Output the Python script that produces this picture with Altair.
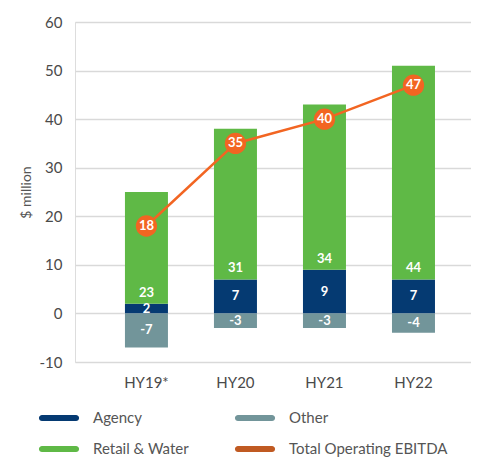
import altair as alt
import pandas as pd

periods = ["HY19*", "HY20", "HY21", "HY22"]
agency = [2, 7, 9, 7]
retail = [23, 31, 34, 44]
other = [-7, -3, -3, -4]
total = [18, 35, 40, 47]

series_names = ["Agency", "Other", "Retail & Water", "Total Operating EBITDA"]
series_colors = ["#053a72", "#72959a", "#5fb946", "#c05a22"]
line_color = "#f26522"

rows = []
for i, p in enumerate(periods):
    rows.append({"period": p, "series": "Agency", "value": agency[i], "order": 1})
    rows.append({"period": p, "series": "Retail & Water", "value": retail[i], "order": 2})
    rows.append({"period": p, "series": "Other", "value": other[i], "order": 3})
bars_df = pd.DataFrame(rows)
total_df = pd.DataFrame({"period": periods, "total": total})

FONT = "Lato"

x_scale = alt.Scale(domain=periods, paddingInner=0.517, paddingOuter=0.483, align=0.581)
x_enc = alt.X("period:N", scale=x_scale, sort=periods,
              axis=alt.Axis(title=None, labelAngle=0, domain=False, ticks=False,
                            labelPadding=13, labelFontSize=15, labelColor="#4a4a4a",
                            labelFont=FONT))
y_scale = alt.Scale(domain=[-10, 60], nice=False, zero=False)
y_axis = alt.Axis(title="$ million", values=[-10, 0, 10, 20, 30, 40, 50, 60],
                  labelExpr="toString(datum.value)",
                  domain=False, ticks=False, labelPadding=13, labelFontSize=15,
                  labelColor="#4a4a4a", labelFont=FONT, titleFont=FONT,
                  titleFontSize=14, titleFontWeight="normal", titleColor="#555555",
                  titlePadding=6, gridColor="#d9d9d9", gridWidth=1.6)

bars = alt.Chart(bars_df).mark_bar(size=43).encode(
    x=x_enc,
    y=alt.Y("value:Q", scale=y_scale, axis=y_axis, stack="zero"),
    color=alt.Color("series:N", scale=alt.Scale(domain=series_names, range=series_colors),
                    legend=alt.Legend(
                        title=None, orient="none", legendX=-33, legendY=379,
                        columns=2, direction="horizontal",
                        symbolType="M-1,-0.18L1,-0.18A0.18,0.18,0,0,1,1,0.18L-1,0.18A0.18,0.18,0,0,1,-1,-0.18Z",
                        symbolSize=1156, symbolStrokeWidth=0, symbolOpacity=1,
                        labelFontSize=15, labelColor="#555555", labelFont=FONT,
                        labelOffset=17, rowPadding=6, columnPadding=45,
                        gridAlign="each")),
    order=alt.Order("order:Q"),
)

stacked = alt.Chart(bars_df).transform_stack(
    stack="value", groupby=["period"], as_=["v0", "v1"],
    sort=[alt.SortField("order", order="ascending")]
).transform_calculate(mid="(datum.v0 + datum.v1) / 2", lbl="toString(datum.value)")

mid_labels = stacked.transform_filter("datum.series != 'Retail & Water'").mark_text(
    color="white", fontSize=13, fontWeight="bold", font=FONT
).encode(x=alt.X("period:N", scale=x_scale, sort=periods), y=alt.Y("mid:Q", scale=y_scale),
         text=alt.Text("lbl:N"))

retail_labels = stacked.transform_filter("datum.series == 'Retail & Water'").mark_text(
    color="white", fontSize=13, fontWeight="bold", font=FONT, dy=-11
).encode(x=alt.X("period:N", scale=x_scale, sort=periods), y=alt.Y("v0:Q", scale=y_scale),
         text=alt.Text("lbl:N"))

line = alt.Chart(total_df).mark_line(color=line_color, strokeWidth=2.5).encode(
    x=alt.X("period:N", scale=x_scale, sort=periods),
    y=alt.Y("total:Q", scale=y_scale),
)
points = alt.Chart(total_df).mark_point(filled=True, color=line_color, size=452, opacity=1).encode(
    x=alt.X("period:N", scale=x_scale, sort=periods),
    y=alt.Y("total:Q", scale=y_scale),
)
point_labels = alt.Chart(total_df).mark_text(color="white", fontSize=13, fontWeight="bold", font=FONT).encode(
    x=alt.X("period:N", scale=x_scale, sort=periods),
    y=alt.Y("total:Q", scale=y_scale),
    text=alt.Text("total:Q"),
)

chart = alt.layer(bars, mid_labels, retail_labels, line, points, point_labels).properties(
    width=396, height=340,
    autosize=alt.AutoSizeParams(type="none"),
    padding={"left": 67, "top": 14, "right": 0, "bottom": 95},
).configure_view(stroke=None).configure(font=FONT)

chart.save("out.html", embed_options={"renderer": "svg", "actions": False})
